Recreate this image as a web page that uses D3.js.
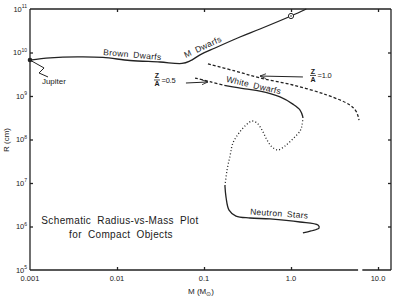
<!DOCTYPE html>
<html>
<head>
<meta charset="utf-8">
<script src="https://cdn.jsdelivr.net/npm/d3@7"></script>
<style>
  body { margin: 0; background: #fff; }
  text { font-family: "Liberation Sans", Arial, sans-serif; fill: #1a1a1a; }
</style>
</head>
<body>
<div id="chart"></div>
<script>
// schematic radius vs mass, values as [M (Msun), R (cm)]
var xTicks = [0.001, 0.01, 0.1, 1, 10];
var xTickLabels = ["0.001", "0.01", "0.1", "1.0", "10.0"];
var yExps = [5, 6, 7, 8, 9, 10, 11];

var jupiter = [0.001, 6.7e9];
var sun = [1, 6.9e10];

// brown dwarfs -> M dwarfs
var lowMass = [
  [0.001, 6.7e9], [0.0017, 7.5e9], [0.0035, 7.9e9], [0.0069, 7.7e9],
  [0.0141, 6.55e9], [0.0312, 6.05e9], [0.0558, 5.6e9], [0.069, 6.4e9],
  [0.090, 8.8e9], [0.134, 1.27e10], [0.259, 2.27e10], [0.44, 3.47e10],
  [1.0, 6.9e10], [1.5, 1e11]
];

// Z/A = 1.0 (dashed)
var zOne = [
  [0.111, 5.45e9], [0.227, 3.76e9], [0.44, 2.6e9], [1.05, 1.79e9],
  [2.6, 1.05e9], [4.76, 6.2e8], [5.58, 4.5e8], [5.89, 3.47e8], [6.05, 2.8e8]
];

// Z/A = 0.5 branch, in four pieces
var zHalfDash = [[0.0789, 2.59e9], [0.120, 2.10e9], [0.184, 1.70e9]];
var whiteDwarfs = [
  [0.184, 1.70e9], [0.296, 1.45e9], [0.44, 1.30e9], [0.748, 9.5e8],
  [1.05, 6.5e8], [1.27, 4.76e8], [1.37, 3.29e8]
];
var unstable = [
  [1.37, 3.29e8], [1.34, 2.15e8], [1.27, 1.57e8], [1.05, 1.03e8],
  [0.853, 7.1e7], [0.71, 5.74e7], [0.605, 6.73e7], [0.53, 9.75e7],
  [0.464, 1.65e8], [0.407, 2.39e8], [0.356, 2.66e8], [0.304, 2.15e8],
  [0.252, 1.41e8], [0.215, 8.3e7], [0.199, 4.18e7], [0.184, 1.99e7],
  [0.174, 8.5e6]
];
var neutronStars = [
  [0.174, 8.5e6], [0.179, 4.76e6], [0.194, 2.39e6], [0.233, 1.74e6],
  [0.338, 1.57e6], [0.574, 1.49e6], [1.27, 1.27e6], [2.04, 1.08e6],
  [2.10, 9.25e5], [1.70, 7.9e5], [1.37, 7.1e5]
];

var jupiterLeader = [[0.001, 6.7e9], [0.00145, 4.41e9], [0.00127, 3.38e9], [0.00161, 2.74e9]];
var arrowHalf = [[0.062, 1.99e9], [0.111, 2.10e9]];
var arrowOne = [[1.37, 2.74e9], [0.44, 2.88e9]];

// curve labels: text, M, R, angle
var curveLabels = [
  ["Brown Dwarfs", 0.0149, 7.67e9, 5],
  ["M Dwarfs", 0.1, 1.17e10, -25],
  ["White Dwarfs", 0.366, 1.53e9, 13],
  ["Neutron Stars", 0.728, 1.70e6, 4]
];

var width = 399, height = 300;

var svg = d3.select("#chart").append("svg")
  .attr("width", width)
  .attr("height", height);

var defs = svg.append("defs");
defs.append("marker")
  .attr("id", "arr")
  .attr("viewBox", "0 0 10 10")
  .attr("refX", 10).attr("refY", 5)
  .attr("markerWidth", 6).attr("markerHeight", 6)
  .attr("markerUnits", "userSpaceOnUse")
  .attr("orient", "auto")
  .append("path")
  .attr("d", "M0,1L10,5L0,9")
  .attr("fill", "none")
  .attr("stroke", "#222")
  .attr("stroke-width", 1.4);

var x = d3.scaleLog().domain([0.001, 14.1]).range([30, 391]);
var y = d3.scaleLog().domain([1e5, 1e11]).range([270, 9]);

var line = d3.line()
  .x(function(d) { return x(d[0]); })
  .y(function(d) { return y(d[1]); })
  .curve(d3.curveCatmullRom.alpha(0.5));

var straight = d3.line()
  .x(function(d) { return x(d[0]); })
  .y(function(d) { return y(d[1]); });

// frame with axes
var tickLen = 3;
svg.append("g")
  .attr("transform", "translate(0,9)")
  .call(d3.axisTop(x).tickValues(xTicks.slice(1)).tickSizeInner(-tickLen).tickSizeOuter(0).tickFormat(""))
  .call(function(g) { g.select(".domain").attr("d", "M30,0H391"); });

svg.append("g")
  .attr("transform", "translate(0,270)")
  .call(d3.axisBottom(x).tickValues(xTicks.slice(1)).tickSizeInner(-tickLen).tickSizeOuter(0).tickFormat(""))
  .call(function(g) { g.select(".domain").remove(); });

// bottom axis has a break near 6 Msun
svg.append("path")
  .attr("d", "M" + x(0.001) + ",270H" + x(5.9) + "M" + x(6.6) + ",270H" + x(14.1))
  .attr("stroke", "#222").attr("stroke-width", 1.3).attr("fill", "none");

svg.append("g")
  .attr("transform", "translate(30,0)")
  .call(d3.axisLeft(y).tickValues(yExps.map(function(e) { return Math.pow(10, e); }).slice(1, -1))
    .tickSizeInner(-tickLen).tickSizeOuter(0).tickFormat(""))
  .call(function(g) { g.select(".domain").attr("d", "M0,9V270"); });

svg.append("g")
  .attr("transform", "translate(391,0)")
  .call(d3.axisRight(y).tickValues(yExps.map(function(e) { return Math.pow(10, e); }).slice(1, -1))
    .tickSizeInner(-tickLen).tickSizeOuter(0).tickFormat(""))
  .call(function(g) { g.select(".domain").attr("d", "M0,9V270"); });

svg.selectAll(".domain, .tick line")
  .attr("stroke", "#222")
  .attr("stroke-width", 1.3);

// tick labels
svg.selectAll(".xlab")
  .data(xTicks)
  .enter()
  .append("text")
  .attr("class", "xlab")
  .attr("x", function(d) { return x(d); })
  .attr("y", 281)
  .attr("text-anchor", "middle")
  .attr("font-size", 7.5)
  .text(function(d, i) { return xTickLabels[i]; });

var ylab = svg.selectAll(".ylab")
  .data(yExps)
  .enter()
  .append("text")
  .attr("class", "ylab")
  .attr("x", 27)
  .attr("y", function(d) { return y(Math.pow(10, d)) + 2.5; })
  .attr("text-anchor", "end")
  .attr("font-size", 7.5);
ylab.append("tspan").text("10");
ylab.append("tspan")
  .attr("dy", -3.5)
  .attr("font-size", 5)
  .text(function(d) { return d; });

// axis titles
svg.append("text")
  .attr("transform", "translate(9,140) rotate(-90)")
  .attr("text-anchor", "middle")
  .attr("font-size", 8)
  .text("R (cm)");

var mt = svg.append("text")
  .attr("x", 201).attr("y", 294)
  .attr("text-anchor", "middle")
  .attr("font-size", 8);
mt.append("tspan").text("M  (M");
mt.append("tspan").attr("dy", 2).attr("font-size", 6).text("\u2299");
mt.append("tspan").attr("dy", -2).text(")");

// curves
function drawCurve(data, dash) {
  svg.append("path")
    .datum(data)
    .attr("d", line)
    .attr("fill", "none")
    .attr("stroke", "#222")
    .attr("stroke-width", 1.3)
    .attr("stroke-dasharray", dash);
}
drawCurve(lowMass, null);
drawCurve(zOne, "3,2");
drawCurve(zHalfDash, "3,2");
drawCurve(whiteDwarfs, null);
drawCurve(unstable, "1,2.2");
drawCurve(neutronStars, null);

// Jupiter
svg.append("path")
  .datum(jupiterLeader)
  .attr("d", straight)
  .attr("fill", "none")
  .attr("stroke", "#222")
  .attr("stroke-width", 1);
svg.append("circle")
  .attr("cx", x(jupiter[0])).attr("cy", y(jupiter[1]))
  .attr("r", 2.3)
  .attr("fill", "#222");
svg.append("text")
  .attr("x", x(0.00137)).attr("y", y(1.89e9))
  .attr("font-size", 8)
  .text("Jupiter");

// Sun symbol
svg.append("circle")
  .attr("cx", x(sun[0])).attr("cy", y(sun[1]))
  .attr("r", 2.6)
  .attr("fill", "#fff")
  .attr("stroke", "#222")
  .attr("stroke-width", 1);
svg.append("circle")
  .attr("cx", x(sun[0])).attr("cy", y(sun[1]))
  .attr("r", 0.8)
  .attr("fill", "#222");

// Z/A arrows
[arrowHalf, arrowOne].forEach(function(a) {
  svg.append("path")
    .datum(a)
    .attr("d", straight)
    .attr("fill", "none")
    .attr("stroke", "#222")
    .attr("stroke-width", 1)
    .attr("marker-end", "url(#arr)");
});

function fraction(cx, cy, value) {
  var g = svg.append("g").attr("transform", "translate(" + cx + "," + cy + ")");
  g.append("text").attr("x", 0).attr("y", -1.5).attr("text-anchor", "middle")
    .attr("font-size", 7).attr("font-weight", "bold").text("Z");
  g.append("line").attr("x1", -3).attr("x2", 3).attr("y1", 0).attr("y2", 0)
    .attr("stroke", "#222").attr("stroke-width", 0.8);
  g.append("text").attr("x", 0).attr("y", 6.5).attr("text-anchor", "middle")
    .attr("font-size", 7).attr("font-weight", "bold").text("A");
  g.append("text").attr("x", 4.5).attr("y", 2.8)
    .attr("font-size", 7.5).attr("letter-spacing", -0.2).text("=" + value);
}
fraction(x(0.0288), y(2.1e9) - 2, "0.5");
fraction(x(1.79), y(2.74e9) - 1.5, "1.0");

// curve labels
svg.selectAll(".clab")
  .data(curveLabels)
  .enter()
  .append("text")
  .attr("class", "clab")
  .attr("text-anchor", "middle")
  .attr("font-size", 8.5)
  .attr("letter-spacing", 0.3)
  .attr("word-spacing", 2)
  .attr("transform", function(d) {
    return "translate(" + x(d[1]) + "," + y(d[2]) + ") rotate(" + d[3] + ")";
  })
  .text(function(d) { return d[0]; });

// caption
svg.append("text")
  .attr("x", 120).attr("y", 224)
  .attr("text-anchor", "middle")
  .attr("font-size", 10)
  .attr("letter-spacing", 0.35)
  .attr("word-spacing", 3)
  .text("Schematic Radius-vs-Mass Plot");
svg.append("text")
  .attr("x", 121).attr("y", 238)
  .attr("text-anchor", "middle")
  .attr("font-size", 10)
  .attr("letter-spacing", 0.35)
  .attr("word-spacing", 3)
  .text("for Compact Objects");
</script>
</body>
</html>
